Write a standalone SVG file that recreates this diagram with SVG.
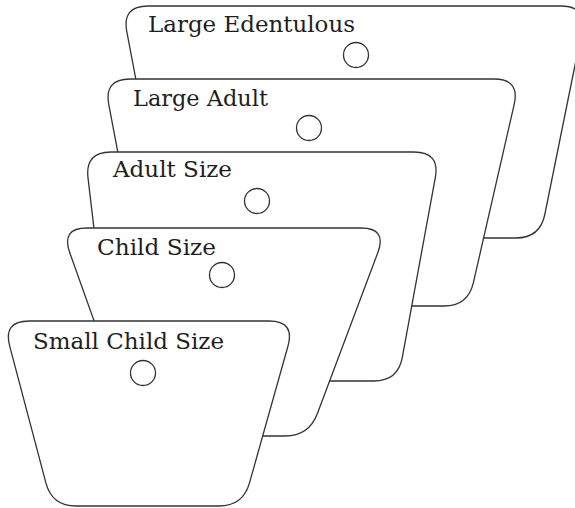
<svg xmlns="http://www.w3.org/2000/svg" width="575" height="508" viewBox="0 0 575 508">
  <style>
    .card { fill: #ffffff; stroke: #333333; stroke-width: 1.3; stroke-linejoin: round; }
    .hole { fill: #ffffff; stroke: #333333; stroke-width: 1.3; }
    .label { font-family: "DejaVu Serif", "Liberation Serif", serif; font-size: 23px; fill: #1e1e1e; }
  </style>
  <rect width="575" height="508" fill="#ffffff"/>
  <g id="card-large-edentulous">
    <path class="card" d="M 148,6 L 561,6 Q 587,6 581.8,31.5 L 544.8,214.5 Q 540,238 516,238 L 190,238 Q 166,238 161.5,214.4 L 126.8,31.6 Q 122,6 148,6 Z"/>
    <text class="label" x="148" y="32" textLength="207" lengthAdjust="spacingAndGlyphs">Large Edentulous</text>
    <circle class="hole" cx="356" cy="55" r="12.5"/>
  </g>
  <g id="card-large-adult">
    <path class="card" d="M 130,79 L 494,79 Q 520,79 514.2,104.3 L 473.4,282.6 Q 468,306 444,306 L 171,306 Q 147,306 142.5,282.4 L 108.8,104.6 Q 104,79 130,79 Z"/>
    <text class="label" x="133" y="106" textLength="135" lengthAdjust="spacingAndGlyphs">Large Adult</text>
    <circle class="hole" cx="309" cy="128" r="12.5"/>
  </g>
  <g id="card-adult-size">
    <path class="card" d="M 111,152 L 414,152 Q 440,152 435.3,177.6 L 402.3,357.4 Q 398,381 374,381 L 136,381 Q 112,381 109.2,357.2 L 88,177.8 Q 85,152 111,152 Z"/>
    <text class="label" x="113" y="177" textLength="119" lengthAdjust="spacingAndGlyphs">Adult Size</text>
    <circle class="hole" cx="257" cy="201" r="12.5"/>
  </g>
  <g id="card-child-size">
    <path class="card" d="M 87,228 L 361,228 Q 387,228 377.9,252.4 L 317.4,413.5 Q 309,436 285,436 L 159,436 Q 135,436 127,413.4 L 69.7,252.5 Q 61,228 87,228 Z"/>
    <text class="label" x="97" y="255" textLength="119" lengthAdjust="spacingAndGlyphs">Child Size</text>
    <circle class="hole" cx="222" cy="275" r="12.5"/>
  </g>
  <g id="card-small-child-size">
    <path class="card" d="M 29,321 L 269,321 Q 295,321 288,346 L 249.5,482.9 Q 243,506 219,506 L 76,506 Q 52,506 45.9,482.8 L 9.7,346.1 Q 3,321 29,321 Z"/>
    <text class="label" x="33" y="349" textLength="191" lengthAdjust="spacingAndGlyphs">Small Child Size</text>
    <circle class="hole" cx="143" cy="373" r="12.5"/>
  </g>
  <g id="connectors"></g>
</svg>
